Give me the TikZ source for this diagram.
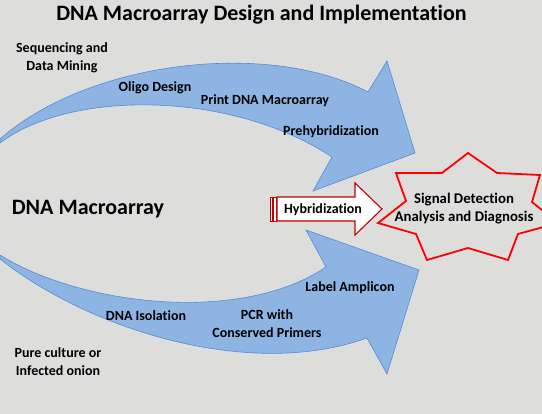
\documentclass[tikz,border=0pt]{standalone}
\usepackage{fontspec}
\setmainfont[Ligatures=NoCommon]{Carlito}
\usepackage{tikz}
\usetikzlibrary{positioning}
\definecolor{slidebg}{RGB}{221,221,219}
\definecolor{arrowblue}{RGB}{141,180,226}
\definecolor{arrowedge}{RGB}{84,141,212}
\definecolor{darkred}{RGB}{192,0,0}
\tikzset
{
    stagetext/.style = {font=\bfseries\fontsize{14}{18}\selectfont, align=center, inner sep=1pt},
    headtext/.style  = {font=\bfseries\fontsize{22}{26}\selectfont, inner sep=1pt},
    bluearrow/.style = {fill=arrowblue, draw=arrowedge, line width=0.6pt},
    hybarrow/.style  = {fill=white, draw=darkred, line width=1.1pt},
    stripe/.style    = {fill=white, draw=darkred, line width=0.7pt},
    burst/.style     = {draw=red, line width=1.8pt, line join=miter}
}

\begin{document}
\begin{tikzpicture}[x=1pt,y=-1pt]
\fill [slidebg] (0,0) rectangle (542,414);
\useasboundingbox (0,0) rectangle (542,414);
\clip (0,0) rectangle (542,414);
% upper curved arrow
\draw [bluearrow] (0,139) .. controls (90,60) and (270,40) .. (368,92) -- (387,61) -- (415,153)
    -- (313,191) -- (332,157) .. controls (230,90) and (70,90) .. (0,143) -- cycle;
% lower curved arrow
\draw [bluearrow] (0,255) .. controls (80,305) and (240,325) .. (326,267) -- (306,230) -- (419,270)
    -- (387,374) -- (367,338) .. controls (250,380) and (90,330) .. (0,259) -- cycle;
% striped arrow
\draw [stripe] (270,197) rectangle (272,221);
\draw [stripe] (273.5,197) rectangle (276,221);
\draw [hybarrow] (277,197) -- (355,197) -- (355,183) -- (382,209) -- (355,235) -- (355,221) -- (277,221) -- cycle;
% star
\draw [burst] (468,153) -- (497,173) -- (540,175) -- (532,202) -- (558,223) -- (518,234) -- (508,260)
    -- (468,248) -- (427,260) -- (416,234) -- (378,223) -- (406,201) -- (396,173) -- (442,173) -- cycle;
% texts
\node [headtext] at (261.5,15) (title) {DNA Macroarray Design and Implementation};
\node [headtext] at (88,209) (array) {DNA Macroarray};
\node [stagetext] at (62,58) (seq) {Sequencing and\\Data Mining};
\node [stagetext] at (155,88) (oligo) {Oligo Design};
\node [stagetext] at (265,101) (print) {Print DNA Macroarray};
\node [stagetext] at (331,132) (prehyb) {Prehybridization};
\node [stagetext] at (323,210) (hyb) {Hybridization};
\node [stagetext, font=\bfseries\fontsize{14.8}{18}\selectfont] at (464,209) (signal) {Signal Detection\\Analysis and Diagnosis};
\node [stagetext] at (350,288) (label) {Label Amplicon};
\node [stagetext] at (146,316) (isol) {DNA Isolation};
\node [stagetext] at (267,324) (pcr) {PCR with\\Conserved Primers};
\node [stagetext] at (58,362) (culture) {Pure culture or\\Infected onion};
\end{tikzpicture}
\end{document}
